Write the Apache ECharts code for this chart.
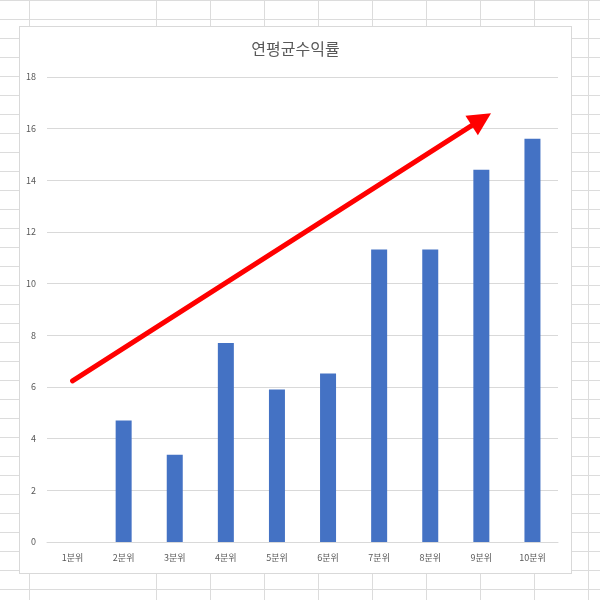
<!DOCTYPE html>
<html>
<head>
<meta charset="utf-8">
<script src="https://cdn.jsdelivr.net/npm/echarts@6/dist/echarts.min.js"></script>
<style>
  html, body { margin: 0; padding: 0; background: #fff; }
  #sheet {
    position: relative; width: 600px; height: 600px; overflow: hidden;
    background-image: repeating-linear-gradient(to bottom, #dcdcdc 0, #dcdcdc 1px, transparent 1px, transparent 19px);
  }
  #colA { position: absolute; left: 29px; top: 0; width: 1px; height: 600px; background: #dcdcdc; }
  #cols {
    position: absolute; left: 156px; top: 0; width: 444px; height: 600px;
    background-image: repeating-linear-gradient(to right, #dcdcdc 0, #dcdcdc 1px, transparent 1px, transparent 54px);
  }
  #frame {
    position: absolute; left: 19px; top: 26px; width: 553px; height: 548px;
    box-sizing: border-box; border: 1px solid #d9d9d9; background: #fff;
  }
  #chart { position: absolute; left: 20px; top: 27px; width: 551px; height: 546px; }
</style>
</head>
<body>
<div id="sheet">
  <div id="colA"></div>
  <div id="cols"></div>
  <div id="frame"></div>
  <div id="chart"></div>
</div>
<script>
// 분위별 연평균수익률
const categories = ['1분위', '2분위', '3분위', '4분위', '5분위', '6분위', '7분위', '8분위', '9분위', '10분위'];
const returns = [0, 4.70, 3.38, 7.70, 5.90, 6.52, 11.32, 11.32, 14.41, 15.61];
const yTicks = [0, 18, 2]; // min, max, interval

// 추세 화살표 (카테고리 인덱스, 값)
const arrowStart = [0, 6.24];
const arrowEnd = [8.15, 16.36];

const chart = echarts.init(document.getElementById('chart'));

const labelFont = { fontSize: 9, color: '#595959', fontFamily: '"Noto Sans CJK KR", sans-serif' };

const option = {
  animation: false,
  title: {
    text: '연평균수익률',
    left: 'center',
    top: 9,
    textStyle: { fontSize: 16, fontWeight: 'normal', color: '#595959', fontFamily: '"Noto Sans CJK KR", sans-serif' }
  },
  grid: { left: 27, right: 13, top: 50, bottom: 31, containLabel: false },
  xAxis: {
    type: 'category',
    data: categories,
    axisLine: { lineStyle: { color: '#d9d9d9', width: 1 } },
    axisTick: { show: false },
    axisLabel: Object.assign({ margin: 11 }, labelFont)
  },
  yAxis: {
    type: 'value',
    min: yTicks[0],
    max: yTicks[1],
    interval: yTicks[2],
    axisLine: { show: false },
    axisTick: { show: false },
    axisLabel: Object.assign({ margin: 11 }, labelFont),
    splitLine: { lineStyle: { color: '#d9d9d9', width: 1 } }
  },
  series: [
    {
      type: 'bar',
      data: returns,
      barWidth: 16,
      itemStyle: { color: '#4472c4' },
      markLine: {
        silent: true,
        symbol: ['none', 'triangle'],
        symbolSize: 23,
        label: { show: false },
        lineStyle: { color: '#ff0000', width: 5, type: 'solid', cap: 'round', opacity: 1 },
        itemStyle: { color: '#ff0000' },
        emphasis: { disabled: true },
        data: [[{ coord: arrowStart }, { coord: arrowEnd }]]
      }
    }
  ]
};

chart.setOption(option);
</script>
</body>
</html>
